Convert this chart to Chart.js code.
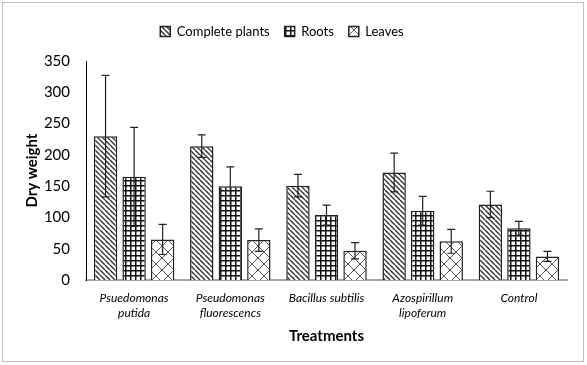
<!DOCTYPE html>
<html>
<head>
<meta charset="utf-8">
<script src="https://cdn.jsdelivr.net/npm/chart.js@4"></script>
<style>
  body { margin: 0; background: #fff; }
  #wrap { position: relative; width: 587px; height: 365px; }
  #frame { position: absolute; left: 2px; top: 2px; width: 580px; height: 358px; border: 1px solid #bfbfbf; pointer-events: none; }
</style>
</head>
<body>
<div id="wrap">
  <canvas id="chart" width="587" height="365"></canvas>
  <div id="frame"></div>
</div>
<script>
// values
const treatments = [['Psuedomonas', 'putida'], ['Pseudomonas', 'fluorescencs'], 'Bacillus subtilis', ['Azospirillum', 'lipoferum'], 'Control'];
const completePlants = [230, 214, 151, 172, 121];
const completeErr = [97, 18, 18, 31, 21];
const roots = [165, 150, 104, 111, 83];
const rootsErr = [79, 31, 16, 23, 11];
const leaves = [65, 64, 47, 62, 38];
const leavesErr = [24, 18, 13, 19, 8];

// fill patterns like the Excel hatches
function makePattern(kind) {
  const c = document.createElement('canvas');
  const p = c.getContext('2d');
  let s = 5;
  if (kind === 'cross') s = 12;
  c.width = s; c.height = s;
  p.fillStyle = '#fff';
  p.fillRect(0, 0, s, s);
  if (kind === 'diag') {
    p.strokeStyle = '#333';
    p.lineWidth = 1.4;
    for (const k of [-s, 0, s]) {
      p.beginPath(); p.moveTo(k, 0); p.lineTo(k + s, s); p.stroke();
    }
  } else if (kind === 'grid') {
    p.fillStyle = '#111';
    p.fillRect(0, 0, s, 1.5);
    p.fillRect(0, 0, 1.5, s);
  } else {
    p.strokeStyle = '#555';
    p.lineWidth = 1;
    for (const k of [-s, 0, s]) {
      p.beginPath(); p.moveTo(k, 0); p.lineTo(k + s, s); p.stroke();
      p.beginPath(); p.moveTo(k, s); p.lineTo(k + s, 0); p.stroke();
    }
  }
  return p.createPattern(c, 'repeat');
}

const errorBars = {
  id: 'errorBars',
  afterDatasetsDraw(chart) {
    const ctx = chart.ctx;
    const y = chart.scales.y;
    ctx.save();
    ctx.strokeStyle = '#222';
    ctx.lineWidth = 1.2;
    chart.data.datasets.forEach((ds, i) => {
      const meta = chart.getDatasetMeta(i);
      meta.data.forEach((bar, j) => {
        const v = ds.data[j], e = ds.errors[j];
        const top = y.getPixelForValue(v + e);
        const bot = y.getPixelForValue(v - e);
        ctx.beginPath();
        ctx.moveTo(bar.x, top); ctx.lineTo(bar.x, bot);
        ctx.moveTo(bar.x - 4, top); ctx.lineTo(bar.x + 4, top);
        ctx.moveTo(bar.x - 4, bot); ctx.lineTo(bar.x + 4, bot);
        ctx.stroke();
      });
    });
    ctx.restore();
  }
};

// extra room under the legend, and nudge it left like the original
const legendTweak = {
  id: 'legendTweak',
  beforeInit(chart) {
    const fit = chart.legend.fit;
    chart.legend.fit = function () {
      fit.bind(chart.legend)();
      this.height += 13;
    };
  },
  afterLayout(chart) {
    chart.legend.left -= 11;
    chart.legend.right -= 11;
  }
};

const ctx = document.getElementById('chart').getContext('2d');

const data = {
  labels: treatments,
  datasets: [
    {
      label: 'Complete plants',
      data: completePlants,
      errors: completeErr,
      backgroundColor: makePattern('diag'),
      borderColor: '#222',
      borderWidth: 1.5
    },
    {
      label: 'Roots',
      data: roots,
      errors: rootsErr,
      backgroundColor: makePattern('grid'),
      borderColor: '#222',
      borderWidth: 1.5
    },
    {
      label: 'Leaves',
      data: leaves,
      errors: leavesErr,
      backgroundColor: makePattern('cross'),
      borderColor: '#222',
      borderWidth: 1.5
    }
  ]
};

new Chart(ctx, {
  type: 'bar',
  data: data,
  plugins: [legendTweak, errorBars],
  options: {
    responsive: false,
    animation: false,
    categoryPercentage: 0.89,
    barPercentage: 0.82,
    layout: { padding: { left: 19, right: 20, top: 10, bottom: 16 } },
    plugins: {
      legend: {
        position: 'top',
        labels: {
          boxWidth: 10,
          boxHeight: 10,
          padding: 15,
          color: '#000',
          font: { family: 'Lato', size: 13 }
        }
      },
      tooltip: { enabled: false }
    },
    scales: {
      x: {
        grid: { display: false },
        border: { color: '#a6a6a6', width: 2 },
        ticks: {
          color: '#000',
          maxRotation: 0,
          autoSkip: false,
          font: { family: 'Lato', size: 12, style: 'italic' }
        },
        title: {
          display: true,
          text: 'Treatments',
          color: '#000',
          font: { family: 'Lato', size: 15, weight: 'bold' }
        }
      },
      y: {
        min: 0,
        max: 350,
        grid: { display: false, drawTicks: false },
        border: { color: '#000', width: 1 },
        ticks: {
          stepSize: 50,
          padding: 16,
          color: '#000',
          font: { family: 'Lato', size: 15 }
        },
        title: {
          display: true,
          text: 'Dry weight',
          color: '#000',
          font: { family: 'Lato', size: 15, weight: 'bold' }
        },
        afterFit(scale) { scale.width = 67; }
      }
    }
  }
});
</script>
</body>
</html>
